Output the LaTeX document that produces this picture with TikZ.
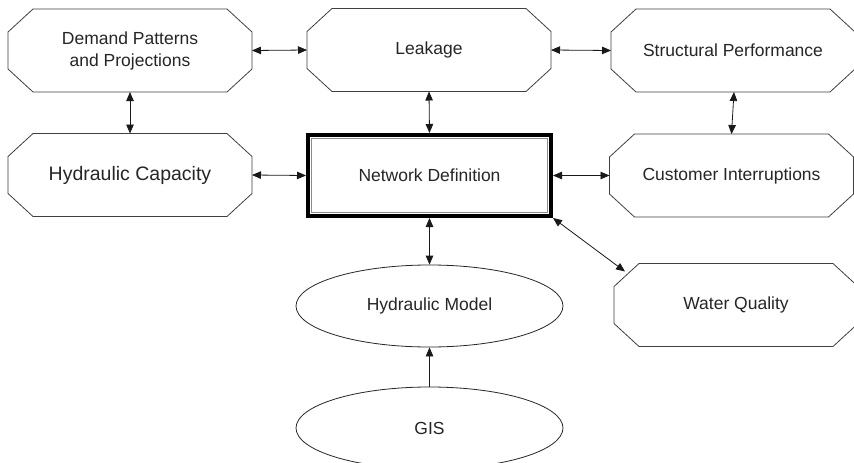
\documentclass[tikz,border=0pt]{standalone}
\usepackage{fontspec}
\setmainfont{Liberation Sans}
\usetikzlibrary{arrows.meta,shapes.geometric,calc}

\tikzset{
  boxtext/.style={font=\fontsize{17.5}{22}\selectfont, text=black!85, align=center},
  octnode/.style={boxtext, minimum width=244pt, minimum height=83pt, inner sep=0pt, outer sep=0pt},
  octline/.style={draw=black!75, line width=0.8pt},
  ovalnode/.style={boxtext, ellipse, draw=black!85, line width=0.8pt,
    minimum width=267pt, minimum height=82pt, inner sep=0pt},
  mainbox/.style={boxtext, draw=black, line width=4pt, minimum width=243pt,
    minimum height=81pt, inner sep=0pt},
  tip/.style={Triangle[length=9pt,width=7.5pt]},
  link/.style={draw=black!90, line width=0.8pt, {Triangle[length=9pt,width=7.5pt]}-{Triangle[length=9pt,width=7.5pt]}},
  onelink/.style={draw=black!90, line width=0.8pt, -{Triangle[length=9pt,width=7.5pt]}},
}

% octagonal frame around a named rectangular node
\newcommand\octframe[1]{%
  \draw[octline] ($(#1.north west)+(25,0)$) -- ($(#1.north east)+(-25,0)$)
    -- ($(#1.north east)+(0,23)$) -- ($(#1.south east)+(0,-23)$)
    -- ($(#1.south east)+(-25,0)$) -- ($(#1.south west)+(25,0)$)
    -- ($(#1.south west)+(0,-23)$) -- ($(#1.north west)+(0,23)$) -- cycle;}

\begin{document}
\begin{tikzpicture}[x=1pt,y=-1pt]
\useasboundingbox[fill=white] (0,0) rectangle (854,463);

% octagonal boxes
\node[octnode] (dem) at (130,50.5) {Demand Patterns\\and Projections};
\node[octnode] (leak) at (429,50) {Leakage};
\node[octnode] (sp) at (733,50.5) {Structural Performance};
\node[octnode, font=\fontsize{19.5}{23}\selectfont] (hc) at (130,175) {Hydraulic Capacity};
\node[octnode] (ci) at (731.5,175.5) {Customer Interruptions};
\node[octnode] (wq) at (736,305) {Water Quality};
\foreach \n in {dem,leak,sp,hc,ci,wq} {\octframe{\n}}

% central box with heavy outer and light inner border
\node[mainbox] (nd) at (429.5,175.5) {Network Definition};
\draw[black!45, line width=1.2pt] ($(nd.north west)+(5.5,5.5)$) rectangle ($(nd.south east)+(-5.5,-5.5)$);

% ellipses
\node[ovalnode] (hm) at (429.5,306) {Hydraulic Model};
\node[ovalnode] (gis) at (429.5,428) {GIS};

% connectors
\draw[link] (dem.east) -- (leak.west);
\draw[link] (leak.east) -- (sp.west);
\draw[link] (dem.south) -- (hc.north);
\draw[link] (leak.south) -- (nd.north);
\draw[link] ($(sp.south)+(1,0)$) -- (ci.north);
\draw[link] (hc.east) -- (nd.west);
\draw[link] (nd.east) -- (ci.west);
\draw[link] (nd.south) -- (hm.north);
\coordinate (wqend) at ($(wq.north west)+(11,8)$);
\draw[link] (nd.south east) -- (wqend);
\draw[onelink] (gis.north) -- (hm.south);
\end{tikzpicture}
\end{document}
